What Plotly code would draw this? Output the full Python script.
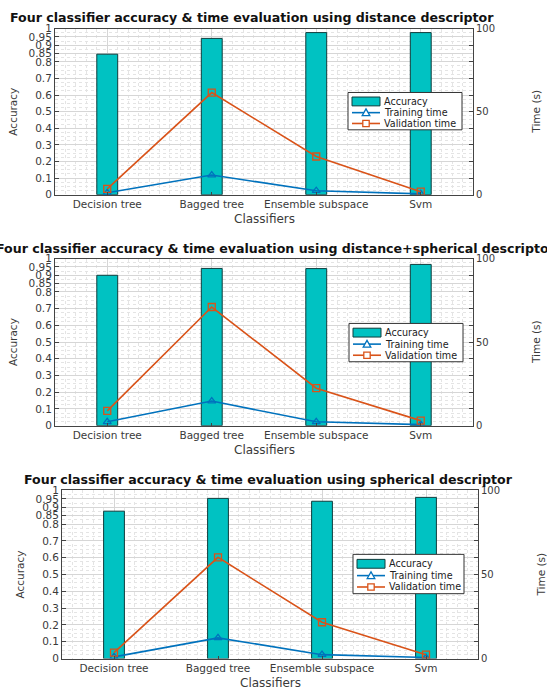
import plotly.graph_objects as go

W, H = 547, 695

classifiers = ["Decision tree", "Bagged tree", "Ensemble subspace", "Svm"]
x_pos = [1, 2, 3, 4]

titles = [
    "Four classifier accuracy & time evaluation using distance descriptor",
    "Four classifier accuracy & time evaluation using distance+spherical descriptor",
    "Four classifier accuracy & time evaluation using spherical descriptor",
]

acc_distance = [0.846, 0.941, 0.976, 0.976]
train_distance = [1.2, 11.8, 2.4, 0.5]
valid_distance = [3.5, 61.5, 23.0, 1.8]

acc_dist_sph = [0.900, 0.941, 0.940, 0.965]
train_dist_sph = [2.3, 14.7, 2.3, 0.6]
valid_dist_sph = [8.8, 71.0, 22.4, 3.0]

acc_spherical = [0.877, 0.953, 0.936, 0.959]
train_spherical = [1.0, 12.3, 2.3, 0.6]
valid_spherical = [3.5, 60.2, 21.6, 2.3]

acc_ticks = [0, 0.1, 0.2, 0.3, 0.4, 0.5, 0.6, 0.7, 0.8, 0.85, 0.9, 0.95, 1]
time_ticks = [0, 10, 20, 30, 40, 50, 60, 70, 80, 90, 100]
time_labels = ["0", "", "", "", "", "50", "", "", "", "", "100"]
legend_names = ["Accuracy", "Training time", "Validation time"]

datasets = [
    (acc_distance, train_distance, valid_distance),
    (acc_dist_sph, train_dist_sph, valid_dist_sph),
    (acc_spherical, train_spherical, valid_spherical),
]

# pixel layout of each panel: (left, right, top, bottom)
panels = [(55, 473, 23, 192), (55, 473, 257, 427), (62, 478, 493, 664)]
title_centers = [252, 276, 268]
title_y = [12, 247, 482]
legend_box = [(348, 88, 114, 38), (349, 323, 114, 39), (353, 558, 111, 40)]

FONT = "DejaVu Sans, Verdana, sans-serif"
TXT = "#3a3a3a"
BAR = "#00C2C2"
BAR_EDGE = "#103c3c"
BLUE = "#0072BD"
ORANGE = "#D95319"


def px(x):
    return x / W


def py(y):
    return 1 - y / H


fig = go.Figure()
layout = dict(
    width=W, height=H, margin=dict(l=0, r=0, t=0, b=0),
    paper_bgcolor="white", plot_bgcolor="white",
    font=dict(family=FONT, size=10.5, color=TXT),
    annotations=[], shapes=[], showlegend=False,
)

for i, ((acc, tr, va), (l, r, t, b)) in enumerate(zip(datasets, panels)):
    n = i + 1
    xa = "x" if n == 1 else f"x{n}"
    ya_ref = "y" if n == 1 else f"y{2*n-1}"
    yb = f"y{2*n}"
    fig.add_trace(go.Bar(
        x=x_pos, y=acc, name=legend_names[0], width=0.2,
        marker=dict(color=BAR, line=dict(color=BAR_EDGE, width=1)),
        xaxis=xa, yaxis=ya_ref,
    ))
    fig.add_trace(go.Scatter(
        x=x_pos, y=tr, name=legend_names[1], mode="lines+markers",
        line=dict(color=BLUE, width=1.6),
        marker=dict(symbol="triangle-up-open", size=7, color=BLUE, line=dict(width=1.3)),
        xaxis=xa, yaxis=yb,
    ))
    fig.add_trace(go.Scatter(
        x=x_pos, y=va, name=legend_names[2], mode="lines+markers",
        line=dict(color=ORANGE, width=1.6),
        marker=dict(symbol="square-open", size=7, color=ORANGE, line=dict(width=1.3)),
        xaxis=xa, yaxis=yb,
    ))
    xkey = "xaxis" if n == 1 else f"xaxis{n}"
    yakey = "yaxis" if n == 1 else f"yaxis{2*n-1}"
    ybkey = f"yaxis{2*n}"
    layout[xkey] = dict(
        domain=[px(l), px(r)], anchor=ya_ref, range=[0.5, 4.5],
        tickvals=x_pos, ticktext=classifiers, ticks="inside", ticklen=3,
        tickcolor="#444", showline=True, linecolor="#444", linewidth=1, mirror=True,
        showgrid=True, gridcolor="#d6d6d6", gridwidth=1,
        minor=dict(dtick=0.1, tick0=0.5, showgrid=True, gridcolor="#e4e4e4", griddash="dot"),
        zeroline=False, tickfont=dict(size=10.5, color=TXT), fixedrange=True,
    )
    layout[yakey] = dict(
        domain=[py(b), py(t)], anchor=xa, range=[0, 1],
        tickvals=acc_ticks, ticktext=[f"{v:g}" for v in acc_ticks],
        ticks="inside", ticklen=4, tickcolor="#444",
        showline=True, linecolor="#444", linewidth=1,
        showgrid=True, gridcolor="#d6d6d6", gridwidth=1,
        minor=dict(dtick=0.025, tick0=0, showgrid=True, gridcolor="#e4e4e4", griddash="dot"),
        zeroline=False, tickfont=dict(size=10.5, color=TXT), fixedrange=True,
    )
    layout[ybkey] = dict(
        overlaying=ya_ref, side="right", anchor=xa, range=[0, 100],
        tickvals=time_ticks, ticktext=time_labels,
        ticks="inside", ticklen=4, tickcolor="#444",
        showline=True, linecolor="#444", linewidth=1,
        showgrid=False, zeroline=False, tickfont=dict(size=10, color=TXT),
        fixedrange=True,
    )
    # titles
    layout["annotations"].append(dict(
        text=f"<b>{titles[i]}</b>", x=px(title_centers[i]), y=py(title_y[i]),
        xref="paper", yref="paper", xanchor="center", yanchor="middle",
        showarrow=False, font=dict(size=12.6, color="#111"),
    ))
    layout["annotations"].append(dict(
        text="Classifiers", x=px((l + r) / 2), y=py(b + 25),
        xref="paper", yref="paper", xanchor="center", yanchor="middle",
        showarrow=False, font=dict(size=12, color=TXT),
    ))
    layout["annotations"].append(dict(
        text="Accuracy", x=px(l - 42), y=py((t + b) / 2),
        xref="paper", yref="paper", xanchor="center", yanchor="middle",
        textangle=-90, showarrow=False, font=dict(size=10.5, color=TXT),
    ))
    layout["annotations"].append(dict(
        text="Time (s)", x=px(r + 63), y=py((t + b) / 2),
        xref="paper", yref="paper", xanchor="center", yanchor="middle",
        textangle=-90, showarrow=False, font=dict(size=10.5, color=TXT),
    ))

    # legend box drawn like the MATLAB legend
    bx, by, bw, bh = legend_box[i]
    S = layout["shapes"]
    S.append(dict(type="rect", xref="paper", yref="paper",
                  x0=px(bx), x1=px(bx + bw), y0=py(by + bh), y1=py(by),
                  fillcolor="white", line=dict(color="#333", width=1)))
    rows = [by + bh * 0.24, by + bh * 0.54, by + bh * 0.83]
    sx0, sx1 = bx + 4, bx + 32
    sc = (sx0 + sx1) / 2
    # bar swatch
    S.append(dict(type="rect", xref="paper", yref="paper",
                  x0=px(sx0), x1=px(sx1), y0=py(rows[0] + 4.5), y1=py(rows[0] - 4.5),
                  fillcolor=BAR, line=dict(color=BAR_EDGE, width=1)))
    # training line + triangle
    S.append(dict(type="line", xref="paper", yref="paper",
                  x0=px(sx0), x1=px(sx1), y0=py(rows[1]), y1=py(rows[1]),
                  line=dict(color=BLUE, width=1.6)))
    tri = (f"M {px(sc - 3.8)},{py(rows[1] + 3)} L {px(sc + 3.8)},{py(rows[1] + 3)} "
           f"L {px(sc)},{py(rows[1] - 3.8)} Z")
    S.append(dict(type="path", xref="paper", yref="paper", path=tri,
                  fillcolor="white", line=dict(color=BLUE, width=1.3)))
    # validation line + square
    S.append(dict(type="line", xref="paper", yref="paper",
                  x0=px(sx0), x1=px(sx1), y0=py(rows[2]), y1=py(rows[2]),
                  line=dict(color=ORANGE, width=1.6)))
    S.append(dict(type="rect", xref="paper", yref="paper",
                  x0=px(sc - 3.2), x1=px(sc + 3.2), y0=py(rows[2] + 3.2), y1=py(rows[2] - 3.2),
                  fillcolor="white", line=dict(color=ORANGE, width=1.3)))
    for name, ry in zip(legend_names, rows):
        layout["annotations"].append(dict(
            text=name, x=px(sx1 + 2), y=py(ry), xref="paper", yref="paper",
            xanchor="left", yanchor="middle", showarrow=False,
            font=dict(size=9.6, color="#222"),
        ))

fig.update_layout(**layout)
fig.write_html("out.html")
